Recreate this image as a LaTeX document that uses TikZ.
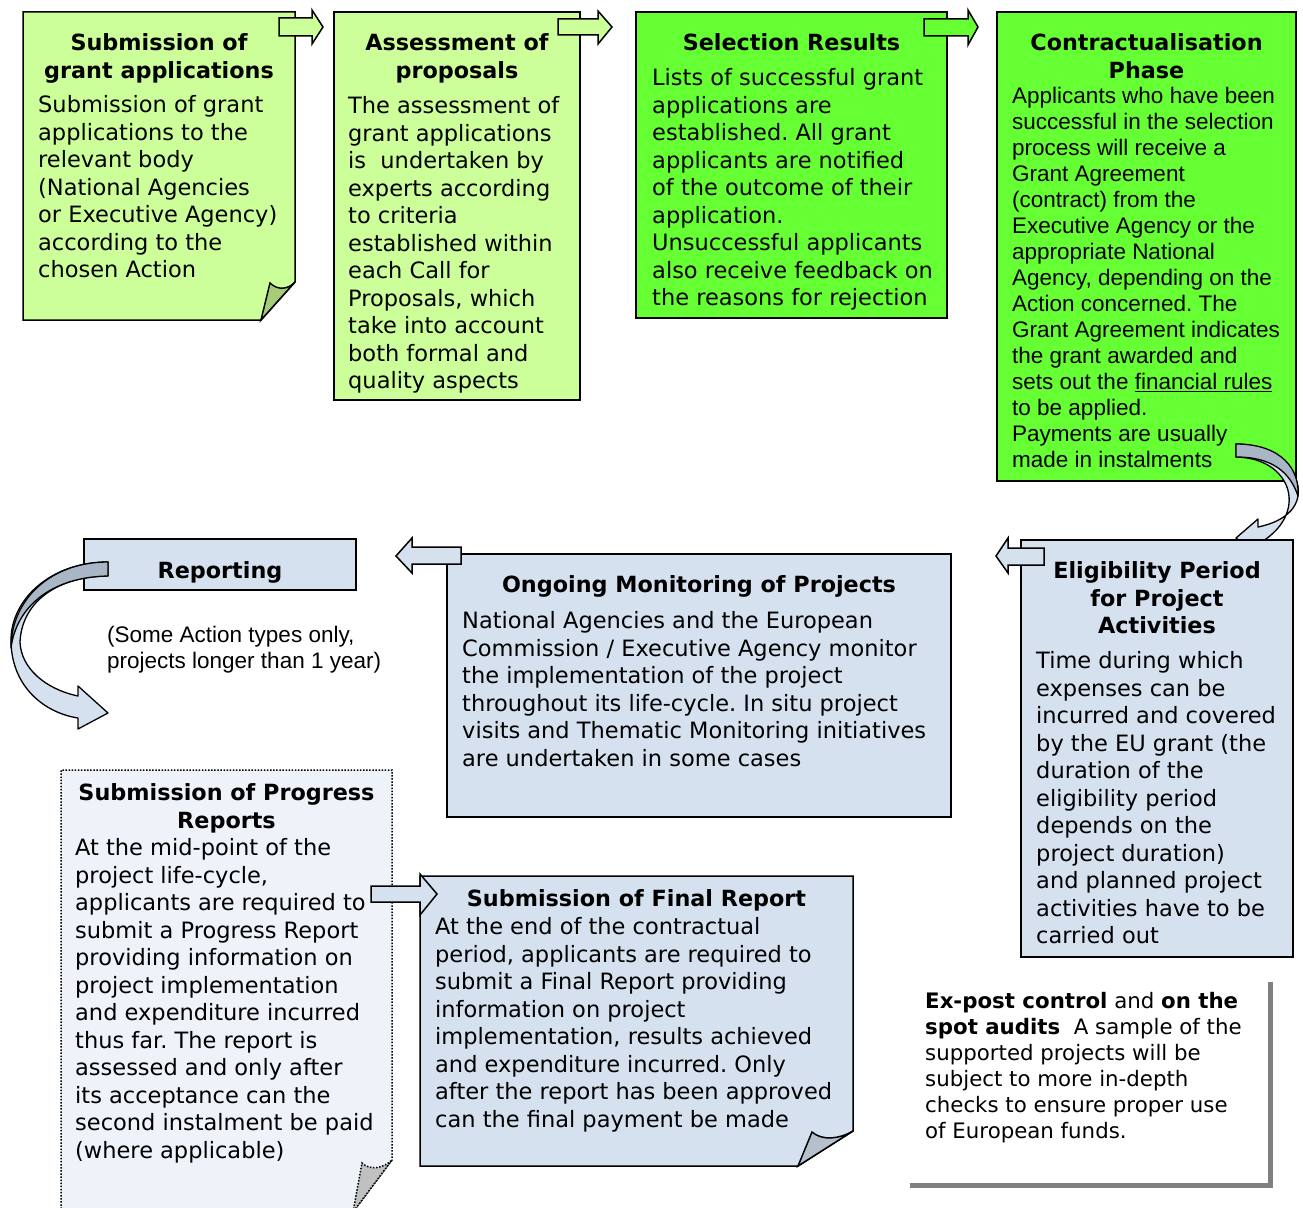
\documentclass[tikz,border=0pt]{standalone}
\usepackage{fontspec}
\setmainfont{DejaVu Sans}
\newfontfamily\arialfont{Liberation Sans}
\frenchspacing
\definecolor{lgreen}{HTML}{CCFF99}
\definecolor{bgreen}{HTML}{66FF33}
\definecolor{fgreen}{HTML}{A6CC7A}
\definecolor{lblue}{HTML}{D5E1EF}
\definecolor{pblue}{HTML}{EEF3F9}
\definecolor{fblue}{HTML}{B5C0CC}
\definecolor{dblue}{HTML}{A9B6C5}
\definecolor{fgray}{HTML}{C0C0C0}
\definecolor{shadow}{HTML}{808080}
\begin{document}
\begin{tikzpicture}[x=1pt,y=-1pt,
  box/.style={draw=black, line width=1.5pt, line join=miter},
  dotbox/.style={draw=black, line width=1.5pt, dash pattern=on 1.5pt off 1.6pt},
  blockarrow/.style={draw=black, line width=1.5pt, line join=miter},
  curvearrow/.style={draw=black, line width=1.3pt, line join=round},
  title/.style={anchor=north, inner sep=0pt, align=center, font=\fontsize{22.3}{27.5}\selectfont\bfseries},
  body/.style={anchor=north west, inner sep=0pt, align=left, font=\fontsize{22.5}{27.5}\selectfont},
  arialbody/.style={anchor=north west, inner sep=0pt, align=left, font=\arialfont\fontsize{22.5}{26}\selectfont},
  smallbody/.style={anchor=north west, inner sep=0pt, align=left, font=\fontsize{21.3}{26}\selectfont}
]
\path[use as bounding box] (0,0) rectangle (1303,1207);

% ---------- Row 1 ----------
\path[box, fill=lgreen] (23,12) -- (295,12) -- (295,282) -- (261,320) -- (23,320) -- cycle;
\path[box, fill=fgreen] (261,320) -- (270,283) .. controls (278,291) and (289,289) .. (295,282) -- cycle;
\path[box, fill=lgreen] (334,12) rectangle (580,400);
\path[box, fill=bgreen] (636,12) rectangle (947,318);
\path[box, fill=bgreen] (997,12) rectangle (1296,481);

\path[blockarrow, fill=lgreen] (279,18) -- (312,18) -- (312,10) -- (323,27) -- (312,44) -- (312,36) -- (279,36) -- cycle;
\path[blockarrow, fill=lgreen] (558,19) -- (598,19) -- (598,11) -- (612,27) -- (598,44) -- (598,35) -- (558,35) -- cycle;
\path[blockarrow, fill=bgreen] (924,19) -- (968,19) -- (968,10) -- (978,27) -- (968,45) -- (968,36) -- (924,36) -- cycle;

\node[title] (t1) at (159,33.5) {Submission of\\grant applications};
\node[body] (b1) at (38,95.5) {Submission of grant\\applications to the\\relevant body\\(National Agencies\\or Executive Agency)\\according to the\\chosen Action};

\node[title] (t2) at (457,33.5) {Assessment of\\proposals};
\node[body] (b2) at (348,96.5) {The assessment of\\grant applications\\is\ \ undertaken by\\experts according\\to criteria\\established within\\each Call for\\Proposals, which\\take into account\\both formal and\\quality aspects};

\node[title] (t3) at (791.5,33.5) {Selection Results};
\node[body] (b3) at (652,68.5) {Lists of successful grant\\applications are\\established. All grant\\applicants are notified\\of the outcome of their\\application.\\Unsuccessful applicants\\also receive feedback on\\the reasons for rejection};

\node[title] (t4) at (1146.5,33.5) {Contractualisation\\Phase};
\node[arialbody] (b4) at (1012,86.6) {Applicants who have been\\successful in the selection\\process will receive a\\Grant Agreement\\(contract) from the\\Executive Agency or the\\appropriate National\\Agency, depending on the\\Action concerned. The\\Grant Agreement indicates\\the grant awarded and\\sets out the \underline{financial rules}\\to be applied.\\Payments are usually\\made in instalments};

% curved arrow from contractualisation to eligibility
\path[curvearrow, fill=lblue] (1236,444) .. controls (1295,444) and (1330,512) .. (1258,527)
  -- (1258,519) -- (1236,538) -- (1258,555) -- (1258,544)
  .. controls (1310,515) and (1293,458) .. (1236,457) -- cycle;
\path[curvearrow, fill=dblue] (1236,444) .. controls (1282,444) and (1300,470) .. (1298,496)
  .. controls (1290,472) and (1272,457) .. (1236,457) -- cycle;

% ---------- Row 2 ----------
\path[box, fill=lblue] (84,539) rectangle (356,590);
\node[title] (t5) at (220,561.5) {Reporting};
\node[arialbody] (b5) at (107,625.6) {(Some Action types only,\\projects longer than 1 year)};

\path[curvearrow, fill=lblue] (108,562) .. controls (50,562) and (11,600) .. (11,640)
  .. controls (11,687) and (45,713) .. (78,718)
  -- (78,729) -- (108,713) -- (78,686) -- (78,696)
  .. controls (45,689) and (21,668) .. (20,642)
  .. controls (22,600) and (60,576) .. (108,576) -- cycle;
\path[curvearrow, fill=dblue] (108,562) .. controls (50,562) and (11,600) .. (11,648)
  .. controls (16,608) and (50,577) .. (108,576) -- cycle;

\path[box, fill=lblue] (447,554) rectangle (951,817);
\path[blockarrow, fill=lblue] (461,547) -- (412,547) -- (412,538) -- (396,556) -- (412,573) -- (412,564) -- (461,564) -- cycle;
\node[title] (t6) at (699,575.5) {Ongoing Monitoring of Projects};
\node[body] (b6) at (462,611.5) {National Agencies and the European\\Commission / Executive Agency monitor\\the implementation of the project\\throughout its life-cycle. In situ project\\visits and Thematic Monitoring initiatives\\are undertaken in some cases};

\path[box, fill=lblue] (1021,540) rectangle (1293,957);
\path[blockarrow, fill=lblue] (1044,548) -- (1008,548) -- (1008,538) -- (996,556) -- (1008,573) -- (1008,565) -- (1044,565) -- cycle;
\node[title] (t7) at (1157,561.5) {Eligibility Period\\for Project\\Activities};
\node[body] (b7) at (1036,651.5) {Time during which\\expenses can be\\incurred and covered\\by the EU grant (the\\duration of the\\eligibility period\\depends on the\\project duration)\\and planned project\\activities have to be\\carried out};

% ---------- Row 3 ----------
\path[dotbox, fill=pblue] (61,1212) -- (61,770) -- (392,770) -- (392,1160) -- (353,1212) -- cycle;
\path[dotbox, fill=fgray] (353,1212) -- (362,1163) .. controls (370,1171) and (384,1168) .. (392,1160) -- cycle;
\node[title] (t8) at (226.5,783.5) {Submission of Progress\\Reports};
\node[body] (b8) at (75,838.5) {At the mid-point of the\\project life-cycle,\\applicants are required to\\submit a Progress Report\\providing information on\\project implementation\\and expenditure incurred\\thus far. The report is\\assessed and only after\\its acceptance can the\\second instalment be paid\\(where applicable)};

\path[box, fill=lblue] (420,876) -- (853,876) -- (853,1131) -- (798,1166) -- (420,1166) -- cycle;
\path[box, fill=fblue] (798,1166) -- (812,1132) .. controls (822,1141) and (840,1139) .. (853,1131) -- cycle;
\path[blockarrow, fill=lblue] (371,886) -- (420,886) -- (420,874) -- (437,894) -- (420,915) -- (420,902) -- (371,902) -- cycle;
\node[title] (t9) at (636.5,889.5) {Submission of Final Report};
\node[body] (b9) at (435,917.5) {At the end of the contractual\\period, applicants are required to\\submit a Final Report providing\\information on project\\implementation, results achieved\\and expenditure incurred. Only\\after the report has been approved\\can the final payment be made};

\fill[shadow] (1268,982) rectangle (1273,1188);
\fill[shadow] (910,1183) rectangle (1273,1188);
\node[smallbody] (b10) at (925,992) {\textbf{Ex-post control} and \textbf{on the}\\\textbf{spot audits}\ \ A sample of the\\supported projects will be\\subject to more in-depth\\checks to ensure proper use\\of European funds.};
\end{tikzpicture}
\end{document}
